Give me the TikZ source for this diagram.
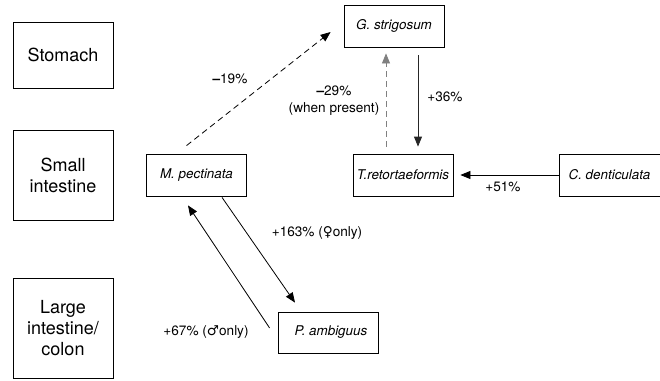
\documentclass[tikz,border=0pt]{standalone}
\usepackage{fontspec}
\setmainfont{TeX Gyre Heros}
\newfontfamily\symfont{DejaVu Sans}
\usetikzlibrary{arrows.meta}
\tikzset{
  region/.style={draw, line width=0.8pt, minimum width=100pt, inner sep=0pt,
    align=center, font=\fontsize{18}{21}\selectfont},
  species/.style={draw, line width=0.8pt, minimum width=100pt, minimum height=42pt,
    inner sep=0pt, font=\fontsize{13.4}{16}\selectfont\itshape},
  lbl/.style={align=center, font=\fontsize{13.6}{17}\selectfont},
  link/.style={line width=0.8pt, -{Triangle[length=10pt,width=8pt]}},
}
\begin{document}
\begin{tikzpicture}[x=1pt,y=-1pt]
  \useasboundingbox (0,0) rectangle (660,380);

  % gut regions
  \node[region, minimum height=66pt] (stomach) at (63,55) {Stomach};
  \node[region, minimum height=90pt] (small) at (63,175) {Small\\intestine};
  \node[region, minimum height=100pt] (large) at (63,328) {Large\\intestine/\\colon};

  % species
  \node[species] (mpect) at (196.5,175) {M. pectinata};
  \node[species] (gstrig) at (394,26) {G. strigosum};
  \node[species] (tretort) at (403,175) {T.retortaeformis};
  \node[species, minimum width=101pt] (cdent) at (609.5,175) {C. denticulata};
  \node[species, minimum height=41pt] (pamb) at (328,332.5) {\hspace{6pt}P. ambiguus};

  % interactions
  \draw[link, dashed, dash pattern=on 6pt off 4pt]
    ([xshift=-10pt,yshift=8pt]mpect.north) -- ([xshift=-13pt,yshift=-6pt]gstrig.west);
  \draw[link, gray, dashed, dash pattern=on 6pt off 4pt]
    ([xshift=-17pt,yshift=7pt]tretort.north) -- ([xshift=-8pt,yshift=-6pt]gstrig.south);
  \draw[link, black!85]
    ([xshift=24pt,yshift=-8pt]gstrig.south) -- ([xshift=15pt,yshift=7pt]tretort.north);
  \draw[link, shorten >=7pt] (cdent.west) -- (tretort.east);
  \draw[link]
    ([xshift=25.5pt,yshift=-1pt]mpect.south) -- ([xshift=-33pt,yshift=9pt]pamb.north);
  \draw[link]
    ([xshift=-8pt,yshift=4.5pt]pamb.west) -- ([xshift=-8.5pt,yshift=-9pt]mpect.south);

  % labels
  \node[lbl] (l19) at (230,79) {\textbf{–}19\%};
  \node[lbl] (l29) at (334,101) {\textbf{–}29\%\\(when present)};
  \node[lbl] (l36) at (445,97) {+36\%};
  \node[lbl] (l51) at (503,187) {+51\%};
  \node[lbl] (l163) at (317,233) {+163\% ({\symfont ♀}only)};
  \node[lbl] (l67) at (206,332) {+67\% ({\symfont ♂}only)};
\end{tikzpicture}
\end{document}
